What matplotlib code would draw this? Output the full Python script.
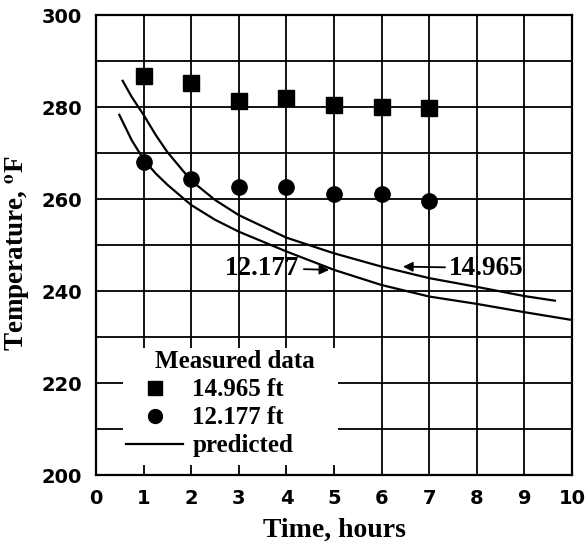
import matplotlib
matplotlib.use("Agg")
import matplotlib.pyplot as plt
from matplotlib.lines import Line2D
from matplotlib.patches import Rectangle

# measured data
hours = [1, 2, 3, 4, 5, 6, 7]
temp_14965 = [286.7, 285.3, 281.4, 282.0, 280.4, 279.9, 279.7]
temp_12177 = [268.1, 264.3, 262.7, 262.6, 261.0, 261.0, 259.6]

# predicted curves
pred_x_14965 = [0.56, 0.75, 1.0, 1.25, 1.5, 2.0, 2.5, 3.0, 4.0, 5.0, 6.0, 7.0, 8.0, 9.0, 9.64]
pred_y_14965 = [285.7, 282.2, 278.3, 274.0, 270.2, 264.0, 259.8, 256.5, 251.6, 248.2, 245.3, 242.8, 240.9, 238.9, 237.9]
pred_x_12177 = [0.49, 0.75, 1.0, 1.25, 1.5, 2.0, 2.5, 3.0, 4.0, 5.0, 6.0, 7.0, 8.0, 9.0, 10.0]
pred_y_12177 = [278.3, 272.8, 268.6, 265.6, 263.1, 258.7, 255.5, 252.9, 248.6, 244.6, 241.3, 238.8, 237.2, 235.4, 233.7]

xticks = list(range(0, 11))
yticks = [200, 220, 240, 260, 280, 300]

serif = "Liberation Serif"
plt.rcParams["mathtext.fontset"] = "stix"

fig = plt.figure(figsize=(5.86, 5.48), dpi=100)
ax = fig.add_axes([0.1638, 0.1332, 0.8123, 0.8394])

ax.set_xlim(0, 10)
ax.set_ylim(200, 300)
ax.set_xticks(xticks)
ax.set_yticks(yticks)
ax.set_yticks(range(200, 301, 10), minor=True)
ax.set_axisbelow(True)
ax.grid(True, which="both", color="black", lw=1.3)
ax.tick_params(which="both", length=0, pad=10)
for lab in ax.get_xticklabels() + ax.get_yticklabels():
   lab.set_fontfamily("DejaVu Sans")
   lab.set_fontweight("bold")
   lab.set_fontsize(14)
for sp in ax.spines.values():
   sp.set_linewidth(1.6)

# white area behind the legend
ax.add_patch(Rectangle((0.57, 202.2), 4.51, 25.5, facecolor="white", edgecolor="none", zorder=1))

ax.plot(hours, temp_14965, "s", color="black", ms=11, zorder=3)
ax.plot(hours, temp_12177, "o", color="black", ms=11, zorder=3)
ax.plot(pred_x_14965, pred_y_14965, color="black", lw=1.6, zorder=2)
ax.plot(pred_x_12177, pred_y_12177, color="black", lw=1.6, zorder=2)

ax.annotate("12.177", xy=(4.9, 244.6), xytext=(4.28, 245.0), ha="right", va="center",
            fontfamily=serif, fontweight="bold", fontsize=19.5,
            arrowprops=dict(arrowstyle="-|>", color="black", lw=1.3, mutation_scale=14, shrinkA=1, shrinkB=0))
ax.annotate("14.965", xy=(6.45, 245.3), xytext=(7.42, 245.0), ha="left", va="center",
            fontfamily=serif, fontweight="bold", fontsize=19.5,
            arrowprops=dict(arrowstyle="-|>", color="black", lw=1.3, mutation_scale=14, shrinkA=1, shrinkB=0))

handles = [
   Line2D([], [], marker="s", ls="none", color="black", ms=10),
   Line2D([], [], marker="o", ls="none", color="black", ms=10),
   Line2D([], [], color="black", lw=1.6),
]
labels = ["14.965 ft", "12.177 ft", "predicted"]
leg = ax.legend(handles, labels, loc="center left", bbox_to_anchor=(0.063, 0.124),
                frameon=False, prop={"family": serif, "weight": "bold", "size": 18},
                handlelength=2.3, handletextpad=0.35, labelspacing=0.2,
                borderpad=0, borderaxespad=0)
leg.set_zorder(4)
ax.text(0.291, 0.2457, "Measured data", transform=ax.transAxes, ha="center", va="center",
        fontfamily=serif, fontweight="bold", fontsize=18, zorder=4)

ax.set_xlabel("Time, hours", fontfamily=serif, fontweight="bold", fontsize=20, labelpad=7)
ax.set_ylabel(r"Temperature, $^{\mathbf{o}}$F", fontfamily=serif, fontweight="bold", fontsize=19.5)
ax.yaxis.set_label_coords(-0.1345, 0.4815)

fig.savefig("out.png", dpi=100)
